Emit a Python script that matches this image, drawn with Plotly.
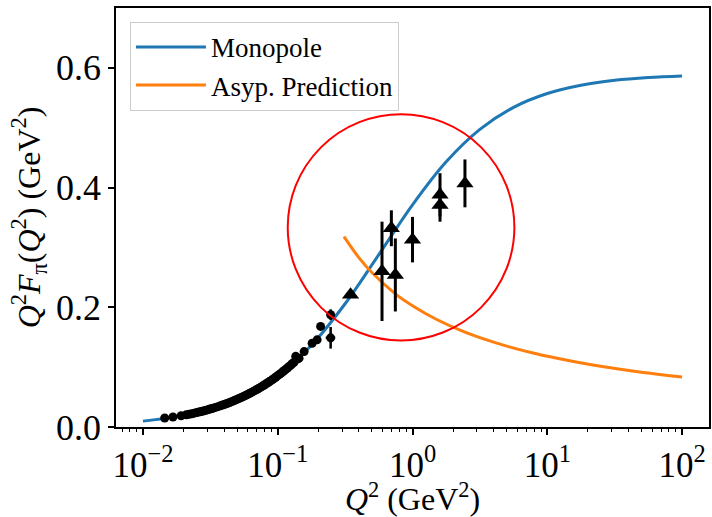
import plotly.graph_objects as go

# ---- data ----
mono_x = [0.01, 0.01778, 0.03162, 0.05623, 0.1, 0.1778, 0.3162, 0.5623, 1.0,
          1.778, 3.162, 5.623, 10.0, 17.78, 31.62, 56.23, 100.0]
mono_y = [0.0098, 0.0173, 0.0300, 0.0513, 0.0855, 0.1366, 0.2059, 0.2879, 0.3711,
          0.4430, 0.4972, 0.5340, 0.5571, 0.5710, 0.5792, 0.5839, 0.5865]

asy_x = [0.31, 0.4, 0.5, 0.75, 1.0, 1.5, 2.3, 3.5, 5.0, 8.0, 15.0, 27.0, 47.0, 100.0]
asy_y = [0.318, 0.283, 0.258, 0.222, 0.2026, 0.180, 0.161, 0.1459, 0.1352,
         0.1232, 0.1102, 0.1002, 0.0924, 0.0835]

# spacelike data (circles)
circ_x = [0.0145, 0.0167, 0.0192, 0.021, 0.022, 0.023, 0.024, 0.025, 0.026, 0.027,
          0.028, 0.029, 0.030, 0.031, 0.032, 0.033, 0.0345, 0.036, 0.0375, 0.039,
          0.0405, 0.042, 0.0435, 0.045, 0.0465, 0.048, 0.050, 0.052, 0.054, 0.056,
          0.058, 0.060, 0.062, 0.064, 0.066, 0.068, 0.070, 0.072, 0.0745, 0.077,
          0.0795, 0.082, 0.0845, 0.087, 0.0895, 0.092, 0.0945, 0.097, 0.100, 0.103,
          0.106, 0.109, 0.112, 0.115, 0.118, 0.121, 0.1245, 0.128, 0.132, 0.136,
          0.140, 0.144, 0.157, 0.180, 0.196, 0.208, 0.247, 0.247]
circ_y = [0.0150, 0.0167, 0.0188, 0.0205, 0.0213, 0.0222, 0.0231, 0.0241, 0.0249, 0.0259,
          0.0267, 0.0277, 0.0286, 0.0296, 0.0304, 0.0314, 0.0327, 0.0340, 0.0353, 0.0367,
          0.0380, 0.0393, 0.0405, 0.0419, 0.0432, 0.0446, 0.0462, 0.0480, 0.0496, 0.0512,
          0.0529, 0.0546, 0.0562, 0.0578, 0.0595, 0.0611, 0.0627, 0.0644, 0.0662, 0.0683,
          0.0702, 0.0722, 0.0740, 0.0760, 0.0778, 0.0798, 0.0816, 0.0836, 0.0858, 0.0880,
          0.0900, 0.0923, 0.0943, 0.0966, 0.0985, 0.1008, 0.1030, 0.1056, 0.1082, 0.1180,
          0.1135, 0.1150, 0.1260, 0.1400, 0.1456, 0.1680, 0.1876, 0.1490]
circ_err = [0.001] * 62 + [0.003, 0.004, 0.004, 0.005, 0.009, 0.018]
circ_xerr = [0.0] * 67 + [0.02]

# other data (triangles)
tri_x = [0.347, 0.594, 0.697, 0.746, 1.0, 1.6, 1.6, 2.45]
tri_y = [0.221, 0.260, 0.332, 0.254, 0.313, 0.388, 0.371, 0.407]
tri_err = [0.005, 0.083, 0.030, 0.061, 0.038, 0.036, 0.028, 0.040]

# ---- tick labels ----
x_tickvals = [0.01, 0.1, 1, 10, 100]
x_ticktext = ["10<sup>−2</sup>", "10<sup>−1</sup>", "10<sup>0</sup>",
              "10<sup>1</sup>", "10<sup>2</sup>"]
y_tickvals = [0.0, 0.2, 0.4, 0.6]
y_ticktext = ["0.0", "0.2", "0.4", "0.6"]

minor_vals = [m * 10.0 ** e for e in range(-3, 3) for m in range(2, 10)]
minor_vals = [v for v in minor_vals if 0.0063 < v < 158]

FONT = "Liberation Serif"

fig = go.Figure()
fig.add_trace(go.Scatter(x=mono_x, y=mono_y, mode="lines", name="Monopole",
                         line=dict(color="#1f77b4", width=3, shape="spline")))
fig.add_trace(go.Scatter(x=asy_x, y=asy_y, mode="lines", name="Asyp. Prediction",
                         line=dict(color="#ff7f0e", width=3, shape="spline")))
fig.add_trace(go.Scatter(x=circ_x, y=circ_y, mode="markers", showlegend=False,
                         marker=dict(symbol="circle", size=9, color="black"),
                         error_y=dict(type="data", array=circ_err, color="black",
                                      thickness=2.5, width=0),
                         error_x=dict(type="data", array=circ_xerr, color="black",
                                      thickness=2.5, width=0)))
fig.add_trace(go.Scatter(x=tri_x, y=tri_y, mode="markers", showlegend=False,
                         marker=dict(symbol="triangle-up", size=15, color="black"),
                         error_y=dict(type="data", array=tri_err, color="black",
                                      thickness=3, width=0)))

fig.add_shape(type="circle", xref="paper", yref="paper",
              x0=0.2896, x1=0.6718, y0=0.2065, y1=0.7465,
              line=dict(color="red", width=2))

fig.update_layout(
    width=712, height=517,
    margin=dict(l=116, r=1, t=8, b=90),
    plot_bgcolor="white", paper_bgcolor="white",
    font=dict(family=FONT, color="black"),
    legend=dict(x=0.0235, y=0.967, xanchor="left", yanchor="top",
                bgcolor="rgba(255,255,255,0.9)", bordercolor="#cccccc", borderwidth=1,
                itemwidth=70, tracegroupgap=0,
                font=dict(size=27, family=FONT)),
)
fig.update_xaxes(
    type="log", range=[-2.2, 2.2],
    tickmode="array", tickvals=x_tickvals, ticktext=x_ticktext,
    ticks="outside", ticklen=6, tickwidth=1.5, tickcolor="black",
    minor=dict(tickmode="array", tickvals=minor_vals, ticks="outside",
               ticklen=3.5, tickwidth=1, tickcolor="black", showgrid=False),
    showline=True, linecolor="black", linewidth=1.5, mirror=True,
    showgrid=False, zeroline=False,
    tickfont=dict(size=35, family=FONT),
    title=dict(text="<i>Q</i><sup>2</sup> (GeV<sup>2</sup>)",
               font=dict(size=32, family=FONT), standoff=2),
)
fig.update_yaxes(
    range=[0, 0.7],
    tickmode="array", tickvals=y_tickvals, ticktext=y_ticktext,
    ticks="outside", ticklen=6, tickwidth=1.5, tickcolor="black",
    showline=True, linecolor="black", linewidth=1.5, mirror=True,
    showgrid=False, zeroline=False,
    tickfont=dict(size=36, family=FONT),
    title=dict(text="<i>Q</i><sup>2</sup><i>F</i><sub>π</sub>(<i>Q</i><sup>2</sup>) (GeV<sup>2</sup>)",
               font=dict(size=32, family=FONT), standoff=6),
)

fig.write_html("out.html")
